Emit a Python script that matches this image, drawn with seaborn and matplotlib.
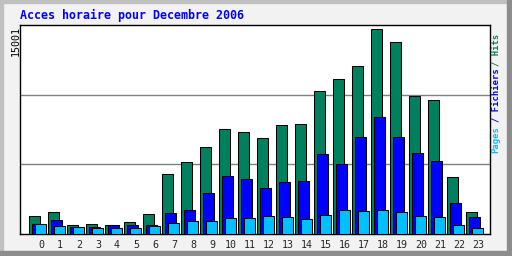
import numpy as np
import pandas as pd
import matplotlib
matplotlib.use("Agg")
import matplotlib.pyplot as plt
import seaborn as sns
from matplotlib.patches import Rectangle

hours = list(range(24))
hits = [1292, 1580, 646, 718, 646, 862, 1436, 4308, 5170, 6247, 7539, 7324,
        6893, 7826, 7898, 10267, 11129, 12062, 14719, 13786, 9908, 9621, 4093, 1580]
files = [718, 1005, 503, 520, 620, 646, 646, 1508, 1723, 2944, 4164, 3949,
         3303, 3734, 3805, 5744, 5026, 6965, 8401, 6965, 5816, 5241, 2226, 1221]
pages = [718, 574, 503, 431, 431, 431, 574, 790, 933, 933, 1149, 1149,
         1292, 1221, 1077, 1364, 1723, 1651, 1723, 1580, 1292, 1221, 646, 431]
ymax = 15001
title = "Acces horaire pour Decembre 2006"

C_HITS = "#00805C"
C_FILES = "#0000FF"
C_PAGES = "#00C0FF"

sns.set_style("white")
plt.rcParams['font.family'] = ['DejaVu Sans Mono', 'DejaVu Sans']

W, H = 512, 256
fig = plt.figure(figsize=(W / 100, H / 100), dpi=100)
fig.patch.set_facecolor("#F2F2F2")

# bevel borders
fig.patches.append(Rectangle((0, 0), 3 / W, 1, transform=fig.transFigure, color="#C0C0C0", zorder=0))
fig.patches.append(Rectangle((0, 1 - 3 / H), 1, 3 / H, transform=fig.transFigure, color="#C0C0C0", zorder=0))
fig.patches.append(Rectangle((1 - 5 / W, 0), 5 / W, 1, transform=fig.transFigure, color="#8C8C8C", zorder=0))
fig.patches.append(Rectangle((0, 0), 1, 5 / H, transform=fig.transFigure, color="#8C8C8C", zorder=0))

left, right, top, bottom = 20, 490, 25, 234
ax = fig.add_axes([left / W, (H - bottom) / H, (right - left) / W, (bottom - top) / H])
ax.set_facecolor("white")

h = np.array(hours, dtype=float)
bw = 0.57
off = 3 / 19.0
df = pd.DataFrame({"h": h, "hits": hits, "files": files, "pages": pages})

for key, col, o in [("hits", C_HITS, 0.0), ("files", C_FILES, off), ("pages", C_PAGES, 2 * off)]:
    sns.barplot(x=df["h"] + o, y=df[key], native_scale=True, width=bw, color=col,
                saturation=1, edgecolor="black", linewidth=0.75, errorbar=None, ax=ax, zorder=3)

for g in (ymax / 3, 2 * ymax / 3):
    ax.axhline(g, color="#808080", lw=1.0, zorder=1)

ax.set_xlim(-0.763, 23.97)
ax.set_ylim(0, ymax)
ax.set_xlabel("")
ax.set_ylabel("")
ax.set_yticks([])
ax.set_xticks(h + 0.34)
ax.set_xticklabels([str(x) for x in hours], fontsize=7.2, family="DejaVu Sans Mono")
ax.tick_params(axis="x", length=0, pad=4)
for s in ax.spines.values():
    s.set_color("black")
    s.set_linewidth(1.0)
    s.set_visible(True)

fig.text(20 / W, 1 - 15 / H, title, color="#0000FF", fontsize=8.4, fontweight="bold",
         family="DejaVu Sans Mono", ha="left", va="center")
fig.text(16 / W, 1 - 26 / H, str(ymax), color="black", fontsize=7.2, rotation=90,
         family="DejaVu Sans Mono", ha="center", va="top")

cw = 5.13
ybase = 153
xl = 496 / W
fig.text(xl, 1 - ybase / H, "Pages", color=C_PAGES, fontsize=6.4, fontweight="bold",
         rotation=90, family="DejaVu Sans Mono", ha="center", va="bottom")
fig.text(xl, 1 - (ybase - 6 * cw) / H, "/ Fichiers", color=C_FILES, fontsize=6.4, fontweight="bold",
         rotation=90, family="DejaVu Sans Mono", ha="center", va="bottom")
fig.text(xl, 1 - (ybase - 17 * cw) / H, "/ Hits", color=C_HITS, fontsize=6.4, fontweight="bold",
         rotation=90, family="DejaVu Sans Mono", ha="center", va="bottom")

fig.savefig("out.png", dpi=100, facecolor=fig.get_facecolor())
